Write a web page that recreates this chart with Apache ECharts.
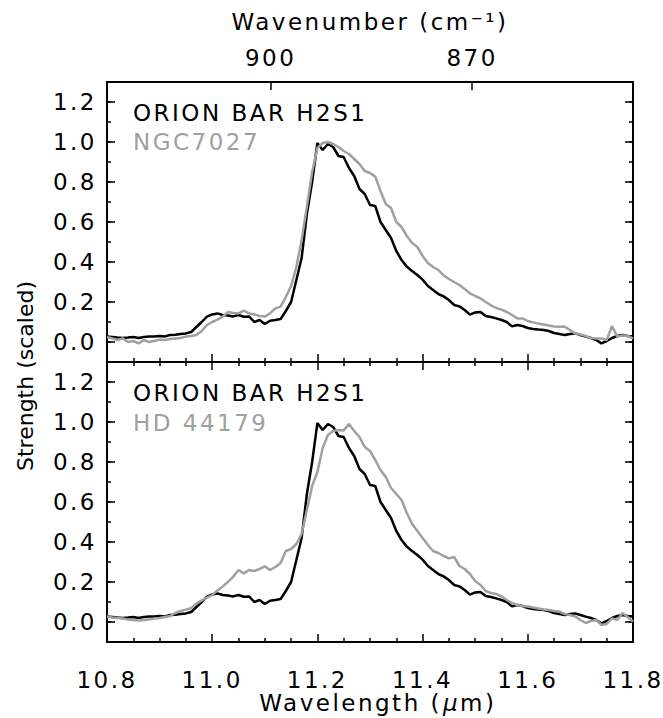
<!DOCTYPE html>
<html><head><meta charset="utf-8">
<script src="https://cdn.jsdelivr.net/npm/echarts@6/dist/echarts.min.js"></script>
<style>
html,body{margin:0;padding:0;background:#fff;}
#c{width:663px;height:718px;}
#c text{letter-spacing:2.5px;}
</style></head><body><div id="c"></div>
<script>
// Wavelength grid (micron)
const wavelength = [
10.80,10.81,10.82,10.83,10.84,10.85,10.86,10.87,10.88,10.89,
10.90,10.91,10.92,10.93,10.94,10.95,10.96,10.97,10.98,10.99,
11.00,11.01,11.02,11.03,11.04,11.05,11.06,11.07,11.08,11.09,
11.10,11.11,11.12,11.13,11.14,11.15,11.16,11.17,11.18,11.19,
11.20,11.21,11.22,11.23,11.24,11.25,11.26,11.27,11.28,11.29,
11.30,11.31,11.32,11.33,11.34,11.35,11.36,11.37,11.38,11.39,
11.40,11.41,11.42,11.43,11.44,11.45,11.46,11.47,11.48,11.49,
11.50,11.51,11.52,11.53,11.54,11.55,11.56,11.57,11.58,11.59,
11.60,11.61,11.62,11.63,11.64,11.65,11.66,11.67,11.68,11.69,
11.70,11.71,11.72,11.73,11.74,11.75,11.76,11.77,11.78,11.79,11.80];

const orionBar = [
0.027,0.025,0.022,0.020,0.022,0.025,0.020,0.025,0.028,0.027,
0.030,0.028,0.035,0.036,0.040,0.043,0.050,0.075,0.100,0.127,
0.138,0.143,0.135,0.132,0.128,0.135,0.126,0.128,0.100,0.110,
0.090,0.106,0.110,0.115,0.155,0.200,0.310,0.420,0.640,0.800,
0.995,0.960,0.990,0.975,0.930,0.925,0.870,0.830,0.765,0.740,
0.685,0.680,0.600,0.560,0.520,0.455,0.410,0.377,0.355,0.335,
0.312,0.280,0.260,0.240,0.228,0.210,0.185,0.178,0.160,0.137,
0.148,0.150,0.130,0.125,0.118,0.110,0.100,0.078,0.085,0.080,
0.070,0.065,0.062,0.060,0.055,0.045,0.040,0.035,0.040,0.043,
0.035,0.027,0.020,0.010,-0.007,0.005,0.020,0.030,0.035,0.030,0.027];

const ngc7027 = [
0.025,0.018,0.010,0.018,0.000,0.005,-0.007,0.010,0.000,0.005,
0.012,0.010,0.015,0.018,0.020,0.027,0.030,0.035,0.055,0.085,
0.100,0.112,0.127,0.150,0.145,0.143,0.157,0.143,0.138,0.130,
0.127,0.143,0.168,0.177,0.225,0.280,0.375,0.510,0.677,0.850,
0.970,0.995,1.000,0.990,0.975,0.955,0.940,0.915,0.890,0.855,
0.845,0.827,0.755,0.690,0.670,0.600,0.575,0.530,0.495,0.475,
0.430,0.395,0.375,0.360,0.333,0.315,0.300,0.285,0.265,0.243,
0.230,0.218,0.200,0.183,0.170,0.162,0.150,0.135,0.118,0.118,
0.105,0.098,0.092,0.088,0.083,0.078,0.076,0.077,0.060,0.043,
0.038,0.030,0.020,0.018,0.018,0.010,0.080,0.027,0.033,0.030,0.018];

const hd44179 = [
0.027,0.022,0.020,0.018,0.012,0.010,0.007,0.010,0.012,0.018,
0.020,0.025,0.030,0.045,0.055,0.062,0.070,0.092,0.108,0.122,
0.135,0.158,0.178,0.200,0.227,0.260,0.243,0.260,0.255,0.265,
0.278,0.260,0.275,0.295,0.355,0.365,0.390,0.440,0.560,0.680,
0.750,0.870,0.935,0.955,0.960,0.958,0.990,0.955,0.925,0.875,
0.855,0.810,0.760,0.725,0.670,0.640,0.610,0.545,0.490,0.455,
0.420,0.385,0.355,0.345,0.330,0.318,0.325,0.280,0.265,0.240,
0.205,0.185,0.155,0.145,0.140,0.128,0.110,0.095,0.085,0.080,
0.077,0.072,0.068,0.063,0.060,0.055,0.052,0.040,0.035,0.028,
0.010,-0.005,0.005,0.010,-0.015,-0.010,0.018,0.010,0.045,0.025,0.002];

const wavenumberTicks = [900, 870];           // cm^-1, top axis
const yTickLabels = [0.0, 0.2, 0.4, 0.6, 0.8, 1.0, 1.2];
const panelNames = [["ORION BAR H2S1", "NGC7027"], ["ORION BAR H2S1", "HD 44179"]];

const FONT = 'DejaVu Sans';
const BLACK = '#000000';
const GRAY = '#a0a0a0';
const axisLine = {show: true, onZero: false, lineStyle: {color: BLACK, width: 2}};
const tickStyle = {color: BLACK, width: 1.5};
const labelFont = {fontFamily: FONT, fontSize: 23, color: BLACK};

const chart = echarts.init(document.getElementById('c'), null, {renderer: 'svg'});

const grids = [
  {left: 107, top: 82, width: 526, height: 280},
  {left: 107, top: 362, width: 526, height: 280}
];

function xAxes(g) {
  const base = {gridIndex: g, type: 'value', min: 10.8, max: 11.8, splitLine: {show: false}, axisLine: axisLine};
  const bottom = Object.assign({}, base, {
    position: 'bottom', interval: 0.2,
    axisTick: {inside: true, length: 8, lineStyle: tickStyle},
    minorTick: {show: true, splitNumber: 4, length: 4, lineStyle: tickStyle},
    minorSplitLine: {show: false},
    axisLabel: g === 1 ? Object.assign({show: true, margin: 26, formatter: v => v.toFixed(1)}, labelFont) : {show: false}
  });
  let top;
  if (g === 0) {
    const tv = wavenumberTicks.map(w => 1e4 / w);
    top = Object.assign({}, base, {
      position: 'top',
      axisTick: {inside: true, length: 8, lineStyle: tickStyle, customValues: tv},
      axisLabel: Object.assign({show: true, margin: 13, customValues: tv, formatter: v => String(Math.round(1e4 / v))}, labelFont)
    });
  } else {
    top = Object.assign({}, base, {
      position: 'top', interval: 0.2,
      axisTick: {inside: true, length: 8, lineStyle: tickStyle},
      minorTick: {show: true, splitNumber: 4, length: 4, lineStyle: tickStyle},
      axisLabel: {show: false}
    });
  }
  return [bottom, top];
}

function yAxes(g) {
  const base = {gridIndex: g, type: 'value', min: -0.1, max: 1.3, splitLine: {show: false}, axisLine: axisLine};
  const out = [];
  ['left', 'right'].forEach(pos => {
    out.push(Object.assign({}, base, {
      position: pos,
      axisTick: {inside: true, length: 8, lineStyle: tickStyle, customValues: yTickLabels},
      axisLabel: pos === 'left'
        ? Object.assign({show: true, margin: 10, customValues: yTickLabels, formatter: v => v.toFixed(1)}, labelFont)
        : {show: false}
    }));
    out.push(Object.assign({}, base, {
      position: pos, interval: 0.1,
      axisTick: {inside: true, length: 4, lineStyle: tickStyle},
      axisLabel: {show: false}
    }));
  });
  return out;
}

const xAxis = xAxes(0).concat(xAxes(1));     // 0,1 grid0 ; 2,3 grid1
const yAxis = yAxes(0).concat(yAxes(1));     // 0 grid0 left ; 4 grid1 left

function line(vals, color, xi, yi) {
  return {
    type: 'line', xAxisIndex: xi, yAxisIndex: yi, showSymbol: false, silent: true,
    data: wavelength.map((x, i) => [x, vals[i]]),
    lineStyle: {color: color, width: 2.5}, itemStyle: {color: color}
  };
}

const series = [
  line(orionBar, BLACK, 0, 0),
  line(ngc7027, GRAY, 0, 0),
  line(orionBar, BLACK, 2, 4),
  line(hd44179, GRAY, 2, 4)
];

const txt = (x, y, text, color, align, font) => ({
  type: 'text', x: x, y: y, silent: true,
  style: {text: text, fill: color, font: font || ('23px "' + FONT + '"'), align: align || 'left', verticalAlign: 'middle'}
});

const graphic = [
  txt(133, 113, panelNames[0][0], BLACK),
  txt(133, 142, panelNames[0][1], GRAY),
  txt(133, 393, panelNames[1][0], BLACK),
  txt(133, 423, panelNames[1][1], GRAY),
  txt(370, 22, 'Wavenumber (cm\u207B\u00B9)', BLACK, 'center'),
  txt(442, 703, 'Wavelength (', BLACK, 'right'),
  txt(443, 703, '\u03BC', BLACK, 'left', 'italic 23px "' + FONT + '"'),
  txt(460, 703, 'm)', BLACK, 'left'),
  {type: 'text', x: 25, y: 376, rotation: Math.PI / 2, silent: true,
   style: {text: 'Strength (scaled)', fill: BLACK, font: '22px "' + FONT + '"', align: 'center', verticalAlign: 'middle'}}
];

chart.setOption({
  animation: false,
  backgroundColor: '#ffffff',
  grid: grids,
  xAxis: xAxis,
  yAxis: yAxis,
  series: series,
  graphic: graphic
});

function fixTitle() {
  document.querySelectorAll('#c text').forEach(t => {
    if (t.textContent.indexOf('Strength') >= 0) t.style.letterSpacing = '0px';
  });
}
fixTitle();
chart.on('finished', fixTitle);
setTimeout(fixTitle, 0);
</script>
</body></html>
